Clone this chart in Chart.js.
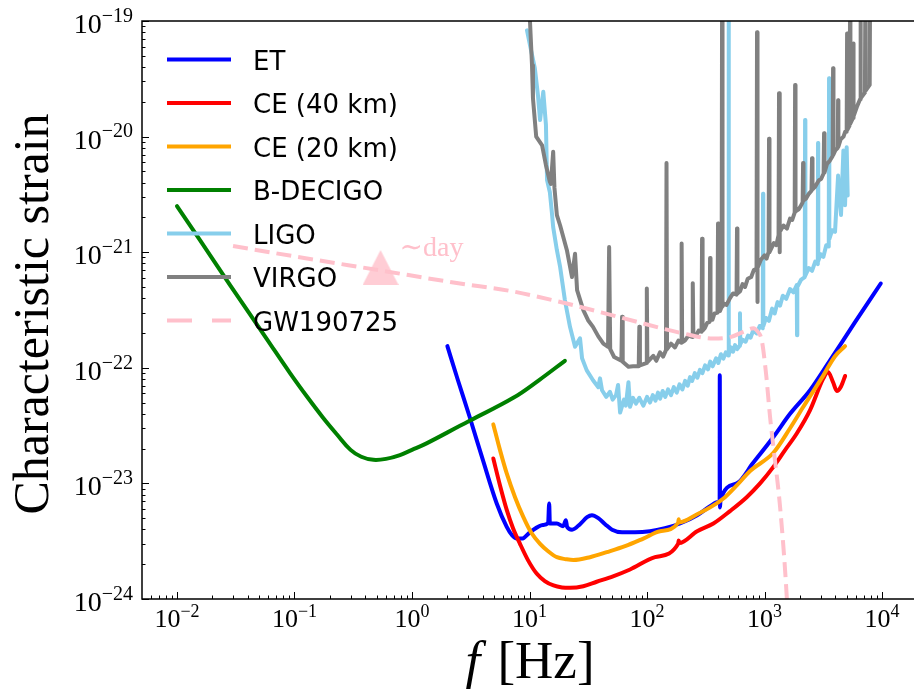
<!DOCTYPE html>
<html>
<head>
<meta charset="utf-8">
<script src="https://cdn.jsdelivr.net/npm/chart.js@4.4.0/dist/chart.umd.min.js"></script>
<style>
  html, body { margin: 0; padding: 0; background: #fff; }
  canvas { display: block; }
</style>
</head>
<body>
<canvas id="strain" width="914" height="689"></canvas>
<script>
// frequency [Hz] and characteristic strain

const etF = [2.0, 2.46, 3.12, 4.02, 5.26, 6.4, 7.1, 7.8, 8.6, 10.1, 13.0, 14.4, 14.7, 14.9, 17.1, 19.3, 20.4, 20.9, 23.0, 26.9, 30.9, 34.0, 38.5, 44.0, 50.4, 61.3, 79, 106, 142, 191, 267, 344, 402, 415, 416, 418, 422, 580, 798, 1189, 1648, 2440, 3610, 5890, 9750];
const etH = [1.54e-22, 7.8e-23, 3.66e-23, 1.58e-23, 6.7e-24, 4.2e-24, 3.56e-24, 3.33e-24, 3.33e-24, 3.78e-24, 4.37e-24, 4.53e-24, 6.7e-24, 4.5e-24, 4.5e-24, 4.26e-24, 4.8e-24, 4.2e-24, 3.98e-24, 4.44e-24, 5.1e-24, 5.3e-24, 5.0e-24, 4.44e-24, 3.98e-24, 3.78e-24, 3.78e-24, 3.86e-24, 4.1e-24, 4.5e-24, 5.3e-24, 6.35e-24, 6.9e-24, 7.0e-24, 8.6e-23, 6.2e-24, 7.2e-24, 1.0e-23, 1.5e-23, 2.52e-23, 4.0e-23, 6.4e-23, 1.16e-22, 2.48e-22, 5.36e-22];

const ce40F = [4.92, 5.61, 6.4, 7.24, 8.3, 9.7, 11.5, 13.5, 16.0, 18.9, 22.1, 28.7, 37.3, 51.4, 71.7, 117, 184, 186, 188, 267, 367, 508, 705, 916, 1189, 1494, 1880, 2440, 3165, 3470, 3830, 4120, 4475, 4850];
const ce40H = [1.64e-23, 9.6e-24, 5.9e-24, 4.1e-24, 3.0e-24, 2.17e-24, 1.66e-24, 1.43e-24, 1.31e-24, 1.26e-24, 1.25e-24, 1.29e-24, 1.41e-24, 1.57e-24, 1.8e-24, 2.3e-24, 3.0e-24, 3.2e-24, 3.05e-24, 3.86e-24, 4.5e-24, 5.76e-24, 7.6e-24, 1.0e-23, 1.39e-23, 1.94e-23, 2.7e-23, 4.3e-23, 8.1e-23, 9.2e-23, 7.5e-23, 6.3e-23, 6.9e-23, 8.5e-23];

const ce20F = [4.92, 5.61, 6.4, 7.53, 8.85, 10.3, 12.3, 14.4, 17.1, 20.4, 23.6, 32.7, 45.4, 65, 93, 129, 184, 186, 188, 267, 367, 461, 580, 753, 1189, 1648, 2140, 3165, 3980, 4842];
const ce20H = [3.24e-23, 1.94e-23, 1.22e-23, 7.6e-24, 5.13e-24, 3.78e-24, 3.0e-24, 2.59e-24, 2.3e-24, 2.21e-24, 2.17e-24, 2.3e-24, 2.54e-24, 2.86e-24, 3.33e-24, 3.86e-24, 4.55e-24, 4.9e-24, 4.6e-24, 5.4e-24, 6.45e-24, 7.6e-24, 9.6e-24, 1.28e-23, 1.84e-23, 3.0e-23, 4.6e-23, 8.6e-23, 1.26e-22, 1.54e-22];

const decigoF = [0.01, 0.0157, 0.0283, 0.058, 0.0916, 0.13, 0.175, 0.23, 0.3, 0.37, 0.47, 0.6, 0.79, 1.0, 1.33, 2.56, 3.12, 7.28, 12, 20];
const decigoH = [2.5e-21, 1.27e-21, 5.2e-22, 1.78e-22, 9.0e-23, 5.5e-23, 3.7e-23, 2.65e-23, 1.95e-23, 1.7e-23, 1.6e-23, 1.63e-23, 1.76e-23, 1.95e-23, 2.22e-23, 3.15e-23, 3.5e-23, 5.5e-23, 7.8e-23, 1.15e-22];

const ligoF = [9.52, 10.3, 11.1, 11.8, 12.3, 13.1, 13.8, 14.1, 14.9, 15.5, 15.9, 17.1, 18.2, 20.0, 22.1, 24.4, 26.9, 28.0, 30.7, 34.7, 38.5, 39.8, 41.4, 45, 48.4, 51, 54.5, 56.7, 59.0, 63.7, 66, 69.5, 71.7, 76, 80.6, 86, 93, 100, 106, 112, 118, 124, 129, 136, 143, 151, 160, 169, 179, 189, 200, 211, 222, 232, 242, 255, 268, 282, 296, 312, 330, 345, 362, 387, 405, 425, 446, 468, 490, 494, 498, 520, 540, 561, 585, 614, 618, 622, 650, 690, 724, 760, 800, 859, 910, 966, 971, 976, 1030, 1090, 1159, 1220, 1290, 1355, 1430, 1530, 1648, 1760, 1880, 1890, 1900, 2050, 2200, 2213, 2226, 2380, 2535, 2700, 2840, 2853, 2866, 3000, 3165, 3350, 3520, 3539, 3558, 3760, 3980, 4226, 4475, 4690, 4842, 5000, 5100];
const ligoH = [8.3e-20, 5.6e-20, 3.9e-20, 2.28e-20, 1.39e-20, 2.44e-20, 1.26e-20, 4.2e-21, 3.3e-21, 2.2e-21, 1.65e-21, 1.04e-21, 7.5e-22, 3.85e-22, 2.26e-22, 1.52e-22, 1.8e-22, 1.21e-22, 9.5e-23, 7.8e-23, 6.8e-23, 8.1e-23, 6.4e-23, 5.6e-23, 6.2e-23, 5.3e-23, 5.8e-23, 7.1e-23, 4.1e-23, 5.3e-23, 4.7e-23, 7.5e-23, 4.6e-23, 5.5e-23, 4.9e-23, 5.5e-23, 4.7e-23, 5.6e-23, 5.0e-23, 5.8e-23, 5.2e-23, 6.1e-23, 5.4e-23, 6.3e-23, 5.6e-23, 6.5e-23, 5.8e-23, 6.8e-23, 6.1e-23, 7.2e-23, 6.5e-23, 7.7e-23, 7.0e-23, 8.3e-23, 7.7e-23, 9.0e-23, 8.2e-23, 9.6e-23, 9.0e-23, 1.05e-22, 9.7e-23, 1.13e-22, 1.03e-22, 1.21e-22, 1.1e-22, 1.31e-22, 1.2e-22, 1.36e-22, 1.28e-22, 1.5e-19, 1.3e-22, 1.5e-22, 1.38e-22, 1.57e-22, 1.45e-22, 1.55e-22, 2.96e-22, 1.6e-22, 1.75e-22, 1.68e-22, 1.9e-22, 1.82e-22, 2.1e-22, 1.98e-22, 2.3e-22, 2.2e-22, 3.2e-21, 2.3e-22, 2.7e-22, 2.55e-22, 3.25e-22, 2.95e-22, 3.7e-22, 3.45e-22, 4.2e-22, 3.95e-22, 4.8e-22, 4.5e-22, 5.2e-22, 1.91e-22, 5.0e-22, 5.8e-22, 6.1e-22, 1.39e-20, 6.3e-22, 7.3e-22, 6.9e-22, 8.3e-22, 7.9e-22, 8.8e-21, 8.4e-22, 9.6e-22, 9.1e-22, 1.15e-21, 1.12e-21, 3.2e-20, 1.3e-21, 1.55e-21, 1.5e-21, 4.6e-21, 2.1e-21, 7.6e-21, 2.55e-21, 8.1e-21, 3.1e-21];

const virgoF = [9.9, 10.1, 10.5, 10.7, 11.4, 12.8, 13.8, 14.9, 15.2, 15.9, 16.3, 17.1, 18.2, 20.8, 23.0, 24.4, 25.4, 28.7, 31.5, 34.7, 38.5, 42.5, 46.6, 47.6, 48.6, 52.5, 60.5, 61.3, 62.1, 69.5, 76, 85, 86, 87, 98.5, 99.6, 100.7, 113, 120, 129, 137, 145, 146.5, 148, 160, 173, 185, 195, 197, 199, 210, 225, 242, 245, 248, 260, 275, 291, 294, 297, 310, 325, 341, 344, 347, 360, 375, 398, 402, 406, 418, 431, 435, 439, 450, 475, 508, 540, 578, 583, 588, 620, 650, 682, 720, 770, 810, 855, 863, 868, 875, 930, 1000, 1040, 1082, 1092, 1102, 1200, 1260, 1316, 1328, 1340, 1352, 1450, 1550, 1648, 1720, 1805, 1820, 1835, 1950, 2030, 2110, 2128, 2146, 2250, 2380, 2510, 2535, 2560, 2700, 2900, 3030, 3180, 3210, 3240, 3400, 3600, 3800, 3830, 3860, 4000, 4200, 4226, 4250, 4450, 4700, 4850, 5000, 5040, 5080, 5300, 5340, 5380, 5660, 5700, 5740, 6100, 6500, 6550, 6600, 7150, 7200, 7250, 7850, 7900];
const virgoH = [1.24e-19, 9.8e-20, 4.15e-20, 2.14e-20, 1.0e-20, 8.4e-21, 5.66e-21, 4.07e-21, 3.9e-21, 7.4e-21, 3.6e-21, 2.09e-21, 1.71e-21, 1.04e-21, 6.1e-22, 9.7e-22, 4.69e-22, 3.15e-22, 2.58e-22, 2.26e-22, 1.87e-22, 1.62e-22, 1.52e-22, 1.11e-21, 1.45e-22, 1.24e-22, 1.15e-22, 2.76e-22, 1.13e-22, 1.02e-22, 1.03e-22, 1.03e-22, 2.26e-22, 1.05e-22, 1.1e-22, 4.85e-22, 1.12e-22, 1.27e-22, 1.15e-22, 1.36e-22, 1.25e-22, 1.42e-22, 5.9e-21, 1.45e-22, 1.62e-22, 1.5e-22, 1.72e-22, 1.65e-22, 1.19e-21, 1.66e-22, 1.72e-22, 1.9e-22, 1.85e-22, 5.4e-22, 1.88e-22, 1.88e-22, 2.1e-22, 2.05e-22, 1.31e-21, 2.1e-22, 2.2e-22, 2.45e-22, 2.5e-22, 8.9e-22, 2.6e-22, 2.6e-22, 2.95e-22, 3.0e-22, 1.77e-21, 3.1e-22, 3.1e-22, 3.35e-22, 1.3e-19, 3.4e-22, 3.6e-22, 3.5e-22, 4.0e-22, 4.4e-22, 4.3e-22, 1.6e-21, 4.4e-22, 4.6e-22, 5.3e-22, 5.0e-22, 5.9e-22, 6.1e-22, 7.0e-22, 7.2e-22, 8.0e-20, 3.7e-22, 7.3e-22, 8.6e-22, 9.4e-22, 8.8e-22, 1.0e-21, 9.6e-21, 1.0e-21, 1.2e-21, 1.15e-21, 1.4e-21, 2.37e-20, 1.0e-21, 1.5e-21, 1.7e-21, 1.6e-21, 1.95e-21, 1.9e-21, 2.2e-21, 2.79e-20, 2.25e-21, 2.35e-21, 2.5e-21, 2.7e-21, 5.9e-21, 2.8e-21, 2.9e-21, 3.2e-21, 3.4e-21, 6.5e-21, 3.5e-21, 3.7e-21, 4.2e-21, 4.3e-21, 4.8e-21, 1.07e-20, 4.9e-21, 5.8e-21, 6.2e-21, 6.8e-21, 3.9e-20, 7.0e-21, 7.6e-21, 8.0e-21, 2.06e-20, 8.2e-21, 9.5e-21, 1.0e-20, 1.1e-20, 1.1e-20, 7.8e-20, 1.15e-20, 1.25e-20, 1.3e-19, 1.3e-20, 1.45e-20, 6.4e-20, 1.5e-20, 1.8e-20, 2.1e-20, 1.3e-19, 2.15e-20, 2.4e-20, 1.3e-19, 2.5e-20, 2.8e-20, 1.3e-19];

const gwF = [0.03, 0.1, 0.54, 2.56, 6.8, 20.7, 60, 204, 366, 520, 661, 803, 880, 946, 1030, 1114, 1189, 1355, 1545, 1600];
const gwH = [1.13e-21, 9.2e-22, 6.95e-22, 5.36e-22, 4.63e-22, 3.6e-22, 2.72e-22, 1.98e-22, 1.79e-22, 1.85e-22, 2.05e-22, 2.2e-22, 2.04e-22, 1.74e-22, 8.9e-23, 3.76e-23, 2.07e-23, 6.3e-24, 1.05e-24, 5e-25];

const dayF = [0.54];
const dayH = [7.3e-22];

const xTicks = [1e-2, 1e-1, 1e0, 1e1, 1e2, 1e3, 1e4];
const xTickExp = ['\u22122', '\u22121', '0', '1', '2', '3', '4'];
const yTicks = [1e-24, 1e-23, 1e-22, 1e-21, 1e-20, 1e-19];
const yTickExp = ['\u221224', '\u221223', '\u221222', '\u221221', '\u221220', '\u221219'];

function pts(fs, hs) {
  return fs.map((f, i) => ({x: f, y: hs[i]}));
}

// matplotlib style "^" marker, as tall as it is wide
const tri = document.createElement('canvas');
tri.width = 36; tri.height = 36;
(function () {
  const c = tri.getContext('2d');
  c.fillStyle = 'rgba(255,192,203,0.8)';
  c.beginPath();
  c.moveTo(18, 0); c.lineTo(36, 35); c.lineTo(0, 35); c.closePath();
  c.fill();
})();

const serif = '"Liberation Serif", "DejaVu Serif", serif';

function pow10(ctx, x, y, exp, size, align) {
  ctx.font = size + 'px ' + serif;
  const w1 = ctx.measureText('10').width;
  const small = Math.round(size * 0.7);
  ctx.font = small + 'px ' + serif;
  const w2 = ctx.measureText(exp).width;
  let left = align === 'right' ? x - w1 - w2 : x - (w1 + w2) / 2;
  ctx.textAlign = 'left';
  ctx.textBaseline = 'alphabetic';
  ctx.font = size + 'px ' + serif;
  ctx.fillText('10', left, y);
  ctx.font = small + 'px ' + serif;
  ctx.fillText(exp, left + w1, y - size * 0.4);
}

const axesPlugin = {
  id: 'mplAxes',
  afterDatasetsDraw(chart) {
    const {ctx, chartArea: a} = chart;
    const sx = chart.scales.x, sy = chart.scales.y;
    ctx.save();
    ctx.fillStyle = '#000';
    ctx.strokeStyle = '#000';

    // ticks pointing inwards
    ctx.lineWidth = 1;
    ctx.beginPath();
    for (let k = -3; k <= 4; k++) {
      for (let m = 1; m <= 9; m++) {
        const v = m * Math.pow(10, k);
        if (v < sx.min || v > sx.max) continue;
        const px = Math.round(sx.getPixelForValue(v)) + 0.5;
        ctx.moveTo(px, a.bottom);
        ctx.lineTo(px, a.bottom - (m === 1 ? 7 : 3.5));
      }
    }
    for (let k = -25; k <= -19; k++) {
      for (let m = 1; m <= 9; m++) {
        const v = m * Math.pow(10, k);
        if (v < sy.min * 0.999 || v > sy.max * 1.001) continue;
        const py = Math.round(sy.getPixelForValue(v)) + 0.5;
        ctx.moveTo(a.left, py);
        ctx.lineTo(a.left + (m === 1 ? 7 : 3.5), py);
      }
    }
    ctx.stroke();

    // spines (the right one is off the picture)
    ctx.lineWidth = 1.5;
    ctx.beginPath();
    ctx.moveTo(a.right, a.top);
    ctx.lineTo(a.left, a.top);
    ctx.lineTo(a.left, a.bottom);
    ctx.lineTo(a.right, a.bottom);
    ctx.stroke();

    // tick labels
    xTicks.forEach((v, i) => pow10(ctx, sx.getPixelForValue(v), a.bottom + 28, xTickExp[i], 26, 'center'));
    yTicks.forEach((v, i) => pow10(ctx, a.left - 9, sy.getPixelForValue(v) + 12, yTickExp[i], 28, 'right'));

    // axis titles
    ctx.font = '50px ' + serif;
    ctx.textAlign = 'center';
    ctx.save();
    ctx.translate(48, (a.top + a.bottom) / 2 + 4);
    ctx.rotate(-Math.PI / 2);
    ctx.fillText('Characteristic strain', 0, 0);
    ctx.restore();

    ctx.font = 'italic 53px ' + serif;
    const wf = ctx.measureText('f').width;
    ctx.font = '53px ' + serif;
    const wh = ctx.measureText(' [Hz]').width;
    const x0 = (a.left + a.right) / 2 - (wf + wh) / 2;
    ctx.textAlign = 'left';
    ctx.font = 'italic 53px ' + serif;
    ctx.fillText('f', x0, 678);
    ctx.font = '53px ' + serif;
    ctx.fillText(' [Hz]', x0 + wf + 4, 678);

    // annotation next to the marker
    const tx = sx.getPixelForValue(dayF[0]), ty = sy.getPixelForValue(dayH[0]);
    ctx.fillStyle = '#ffc0cb';
    ctx.font = '28px ' + serif;
    ctx.fillText('\u223Cday', tx + 19, ty - 12);
    ctx.restore();
  },
  afterDraw(chart) {
    const {ctx} = chart;
    ctx.save();
    ctx.font = '26px "DejaVu Sans", sans-serif';
    ctx.textAlign = 'left';
    ctx.textBaseline = 'alphabetic';
    let row = 0;
    chart.data.datasets.forEach((ds) => {
      if (!ds.label) return;
      const cy = 59.5 + row * 43.5;
      ctx.strokeStyle = ds.borderColor;
      ctx.lineWidth = 4;
      ctx.lineCap = 'butt';
      ctx.setLineDash(ds.borderDash ? [25, 20] : []);
      ctx.beginPath();
      ctx.moveTo(167, cy);
      ctx.lineTo(231, cy);
      ctx.stroke();
      ctx.setLineDash([]);
      ctx.fillStyle = '#000';
      ctx.fillText(ds.label, 253, cy + 10);
      row++;
    });
    ctx.restore();
  }
};

new Chart(document.getElementById('strain'), {
  type: 'line',
  data: {
    datasets: [
      {label: 'ET', data: pts(etF, etH), borderColor: '#0000ff', cubicInterpolationMode: 'monotone', order: 6},
      {label: 'CE (40 km)', data: pts(ce40F, ce40H), borderColor: '#ff0000', cubicInterpolationMode: 'monotone', order: 5},
      {label: 'CE (20 km)', data: pts(ce20F, ce20H), borderColor: '#ffa500', cubicInterpolationMode: 'monotone', order: 4},
      {label: 'B-DECIGO', data: pts(decigoF, decigoH), borderColor: '#008000', tension: 0.4, order: 3},
      {label: 'LIGO', data: pts(ligoF, ligoH), borderColor: '#87ceeb', order: 2},
      {label: 'VIRGO', data: pts(virgoF, virgoH), borderColor: '#808080', order: 1},
      {label: 'GW190725', data: pts(gwF, gwH), borderColor: '#ffc0cb', borderDash: [15, 7], borderCapStyle: 'butt', cubicInterpolationMode: 'monotone', order: 0},
      {type: 'scatter', data: pts(dayF, dayH), pointStyle: tri, pointRadius: 18, order: -1}
    ]
  },
  options: {
    responsive: false,
    animation: false,
    devicePixelRatio: 1,
    layout: {autoPadding: false, padding: {left: 142, top: 21, right: 0, bottom: 90}},
    plugins: {legend: {display: false}, tooltip: {enabled: false}},
    elements: {
      point: {radius: 0},
      line: {borderWidth: 4, borderJoinStyle: 'round', borderCapStyle: 'round', tension: 0}
    },
    datasets: {line: {clip: 0}},
    scales: {
      x: {type: 'logarithmic', display: false, min: 0.00504, max: 18700},
      y: {type: 'logarithmic', display: false, min: 1e-24, max: 1e-19}
    }
  },
  plugins: [axesPlugin]
});
</script>
</body>
</html>
